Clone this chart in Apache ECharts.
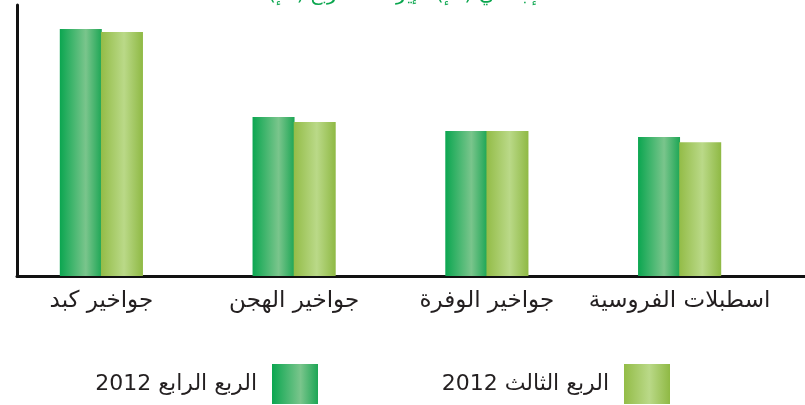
<!DOCTYPE html>
<html>
<head>
<meta charset="utf-8">
<script src="https://cdn.jsdelivr.net/npm/echarts@6/dist/echarts.min.js"></script>
<style>
	html, body { margin: 0; padding: 0; background: #fff; }
	#chart { width: 805px; height: 405px; }
</style>
</head>
<body>
<div id="chart"></div>
<script>
	// chart data
	var categories = ['جواخير كبد', 'جواخير الهجن', 'جواخير الوفرة', 'اسطبلات الفروسية'];
	var q4Values = [91.1, 58.7, 53.5, 51.3];
	var q3Values = [90.0, 56.8, 53.5, 49.4];
	var seriesNames = ['الربع الرابع 2012', 'الربع الثالث 2012'];
	var titleText = 'إجمالي (د.إ) الإيرادات للربع (د.إ)';

	var arFont = 'DejaVu Sans';

	var darkGrad = new echarts.graphic.LinearGradient(0, 0, 1, 0, [
		{offset: 0, color: '#0ba650'},
		{offset: 0.62, color: '#7ac58c'},
		{offset: 1, color: '#1da655'}
	]);
	var lightGrad = new echarts.graphic.LinearGradient(0, 0, 1, 0, [
		{offset: 0, color: '#93bc47'},
		{offset: 0.55, color: '#bad988'},
		{offset: 1, color: '#8fb944'}
	]);

	var axisLine = {show: true, lineStyle: {color: '#111', width: 3}};

	var legendBase = {
		top: 364,
		padding: 0,
		icon: 'rect',
		itemWidth: 46,
		itemHeight: 40,
		align: 'right',
		textStyle: {fontSize: 22, color: '#231f20', fontFamily: arFont, padding: [0, 10, 0, 0]}
	};

	var chart = echarts.init(document.getElementById('chart'));
	chart.setOption({
		animation: false,
		title: {
			text: titleText,
			left: 'center',
			top: -20,
			textStyle: {color: '#0aa64e', fontSize: 20, fontWeight: 'normal', fontFamily: arFont}
		},
		legend: [
			echarts.util.merge({data: [seriesNames[0]], right: 487}, legendBase),
			echarts.util.merge({data: [seriesNames[1]], right: 135}, legendBase)
		],
		grid: [
			// frame (axis lines only)
			{left: 17, right: 0, top: 5, bottom: 129},
			// bars
			{left: 5, width: 771, top: 5, bottom: 129}
		],
		xAxis: [
			{
				gridIndex: 0, type: 'value', min: 0, max: 1,
				axisLine: axisLine, axisTick: {show: false}, axisLabel: {show: false}, splitLine: {show: false}
			},
			{
				gridIndex: 1, type: 'category', data: categories,
				axisLine: {show: false}, axisTick: {show: false},
				axisLabel: {interval: 0, hideOverlap: false, margin: 14, fontSize: 23, color: '#231f20', fontFamily: arFont}
			}
		],
		yAxis: [
			{
				gridIndex: 0, type: 'value', min: 0, max: 1,
				axisLine: axisLine, axisTick: {show: false}, axisLabel: {show: false}, splitLine: {show: false}
			},
			{
				gridIndex: 1, type: 'value', min: 0, max: 100,
				axisLine: {show: false}, axisTick: {show: false}, axisLabel: {show: false}, splitLine: {show: false}
			}
		],
		series: [
			{
				name: seriesNames[0],
				type: 'bar',
				xAxisIndex: 1,
				yAxisIndex: 1,
				data: q4Values,
				barWidth: 42,
				barGap: '-2%',
				itemStyle: {color: darkGrad}
			},
			{
				name: seriesNames[1],
				type: 'bar',
				xAxisIndex: 1,
				yAxisIndex: 1,
				data: q3Values,
				barWidth: 42,
				itemStyle: {color: lightGrad}
			}
		]
	});
</script>
</body>
</html>
